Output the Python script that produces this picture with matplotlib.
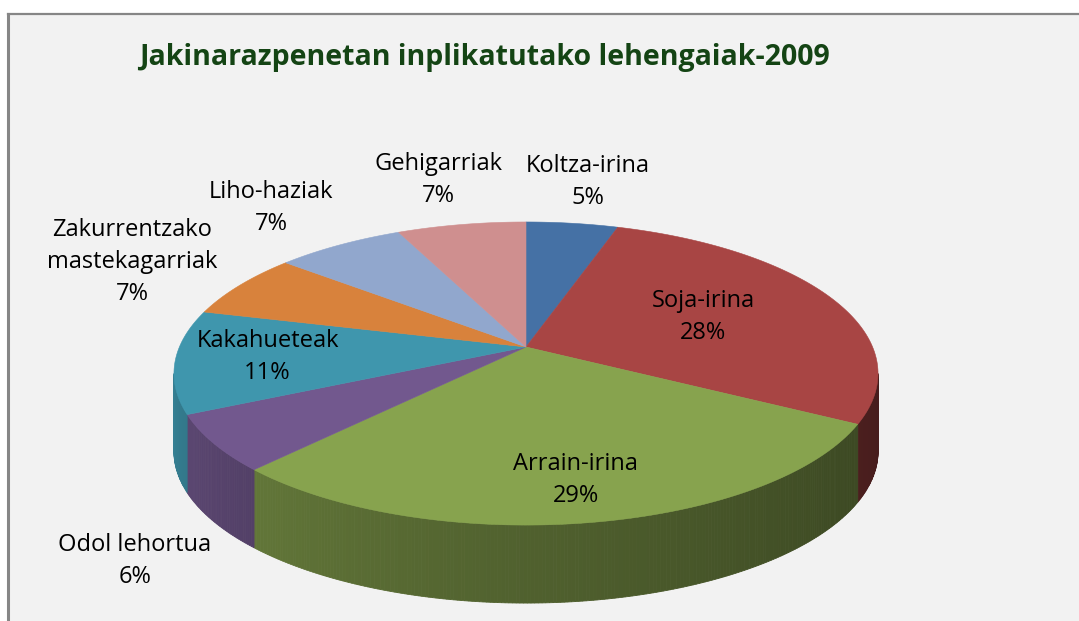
import numpy as np
import matplotlib
matplotlib.use("Agg")
from matplotlib import pyplot as plt
from matplotlib.patches import Polygon, Rectangle
from matplotlib.colors import to_rgb

# data, clockwise from 12 o'clock
labels = ["Koltza-irina", "Soja-irina", "Arrain-irina", "Odol lehortua",
          "Kakahueteak", "Zakurrentzako\nmastekagarriak", "Liho-haziak", "Gehigarriak"]
values = [5, 28, 29, 6, 11, 7, 7, 7]
colors = ["#4571a5", "#a84544", "#87a34e", "#72588e",
          "#3f96ad", "#d8823c", "#91a7cd", "#cf8f8f"]
title = "Jakinarazpenetan inplikatutako lehengaiak-2009"

# label radius (in units of the pie radius), label inside or outside
label_r = [1.42, 0.57, 0.79, 1.22, 0.74, 1.42, 1.44, 1.45]
inside = [False, True, True, False, True, False, False, False]

# perspective model of the pie top (pixels)
W, H = 1079, 621
ax0, ay0 = 526, 347      # apex of the pie
k = 0.175                # perspective strength
sx, sy = 346.6, 146.9
T = 78                   # thickness of the pie


def proj(theta, r=1.0):
    u = r * np.sin(theta)
    v = r * np.cos(theta)
    w = 1 + k * v
    return ax0 + sx * u / w, ay0 - sy * v / w


def shade(th):
    t = (np.degrees(th) - 100) / 160
    t = np.clip(t, 0, 1)
    return 0.42 + 0.43 * t ** 1.3


fig = plt.figure(figsize=(W / 100, H / 100), dpi=100)
ax = fig.add_axes([0, 0, 1, 1])
ax.set_xlim(0, W)
ax.set_ylim(H, 0)
ax.axis("off")
fig.patch.set_facecolor("white")

# chart area with its frame
ax.add_patch(Rectangle((8, 14), W, H, facecolor="#f2f2f2", edgecolor="none", zorder=0))
ax.plot([8, 8], [14, H], color="#868686", lw=2.2, zorder=1)
ax.plot([8, W], [14, 14], color="#868686", lw=1.6, zorder=1)

total = float(sum(values))
bounds = np.concatenate([[0], np.cumsum(values)]) / total * 2 * np.pi

th_r = np.arccos(-k)
th_l = 2 * np.pi - th_r

# sides (front faces), thin strips to get the shading
for i, c in enumerate(colors):
    a, b = max(bounds[i], th_r), min(bounds[i + 1], th_l)
    if b <= a:
        continue
    ts = np.linspace(a, b, max(int(np.degrees(b - a) * 2), 2))
    base = np.array(to_rgb(c))
    for t1, t2 in zip(ts[:-1], ts[1:]):
        x1, y1 = proj(t1)
        x2, y2 = proj(t2)
        col = base * shade((t1 + t2) / 2)
        ax.add_patch(Polygon([(x1, y1), (x2, y2), (x2, y2 + T), (x1, y1 + T)],
                             closed=True, facecolor=col, edgecolor=col, lw=0.6, zorder=2))

# top surface
for i, c in enumerate(colors):
    ts = np.linspace(bounds[i], bounds[i + 1], 120)
    pts = [(ax0, ay0)] + [proj(t) for t in ts]
    ax.add_patch(Polygon(pts, closed=True, facecolor=c, edgecolor=c, lw=0.4, zorder=3))

# labels
for i, lab in enumerate(labels):
    mid = (bounds[i] + bounds[i + 1]) / 2
    x, y = proj(mid, label_r[i])
    if not inside[i] and np.cos(mid) < 0:
        y += T * 1.2
    pct = "%d%%" % round(values[i] / total * 100)
    ax.text(x, y, lab + "\n" + pct, ha="center", va="center", fontsize=17,
            family="Open Sans", color="black", linespacing=1.45, zorder=5)

ax.text(484, 57, title, ha="center", va="center", fontsize=20.5, family="Open Sans",
        fontweight="bold", color="#144414", zorder=5)

fig.savefig("out.png", dpi=100, facecolor="white")
